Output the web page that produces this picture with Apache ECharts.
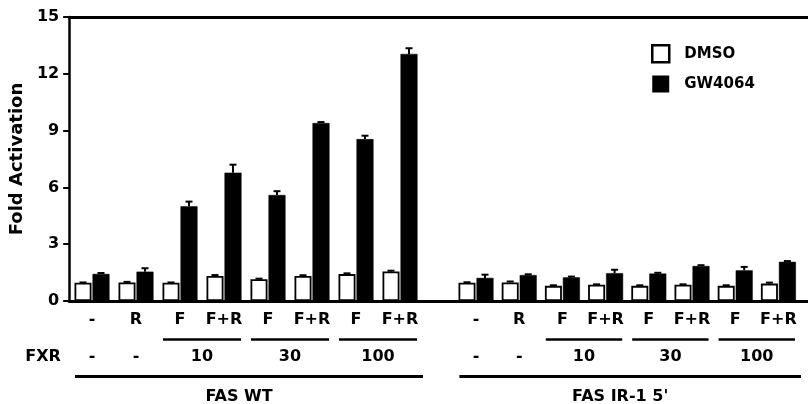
<!DOCTYPE html>
<html>
<head>
<meta charset="utf-8">
<script src="https://cdn.jsdelivr.net/npm/echarts@6/dist/echarts.min.js"></script>
<style>html,body{margin:0;padding:0;background:#fff}#c{width:808px;height:404px}</style>
</head>
<body>
<div id="c"></div>
<script>
// ---- data ----
const treatLabels = ['-', 'R', 'F', 'F+R', 'F', 'F+R', 'F', 'F+R'];
const fxrDoses = ['-', '-', '10', '30', '100'];
const fxrSpans = [[0, 0], [1, 1], [2, 3], [4, 5], [6, 7]];
const constructNames = ['FAS WT', "FAS IR-1 5'"];
const seriesNames = ['DMSO', 'GW4064'];
const yTicks = [0, 3, 6, 9, 12, 15];

const wtDmso = [0.96, 0.98, 0.96, 1.32, 1.15, 1.32, 1.42, 1.56];
const wtDmsoErr = [0.02, 0.03, 0.02, 0.05, 0.03, 0.04, 0.04, 0.04];
const wtGw = [1.43, 1.55, 5.0, 6.78, 5.6, 9.4, 8.55, 13.05];
const wtGwErr = [0.05, 0.18, 0.25, 0.42, 0.2, 0.05, 0.18, 0.3];

const irDmso = [0.97, 0.98, 0.8, 0.86, 0.8, 0.86, 0.8, 0.92];
const irDmsoErr = [0.02, 0.05, 0.03, 0.02, 0.03, 0.02, 0.03, 0.05];
const irGw = [1.22, 1.37, 1.25, 1.47, 1.45, 1.85, 1.62, 2.07];
const irGwErr = [0.17, 0.04, 0.04, 0.18, 0.04, 0.04, 0.18, 0.04];

// ---- styles ----
const FONT = 'DejaVu Sans';
const BAR_W = 17;
const BAR_GAP = 1;
const AX = '#000';

const chart = echarts.init(document.getElementById('c'), null, {renderer: 'canvas'});

function errSeries(name, vals, errs, side, xi, yi) {
  return {
    type: 'custom', name: name + ' err', xAxisIndex: xi, yAxisIndex: yi, z: 5,
    silent: true,
    data: vals.map((v, i) => [i, v, errs[i]]),
    renderItem: function (params, api) {
      const i = api.value(0), v = api.value(1), e = api.value(2);
      const p1 = api.coord([i, v]);
      const p2 = api.coord([i, v + e]);
      const x = p1[0] + side * (BAR_W + BAR_GAP) / 2;
      return {
        type: 'group',
        children: [
          {type: 'line', shape: {x1: x, y1: p1[1], x2: x, y2: p2[1]}, style: {stroke: '#000', lineWidth: 2}},
          {type: 'line', shape: {x1: x - 3.5, y1: p2[1], x2: x + 3.5, y2: p2[1]}, style: {stroke: '#000', lineWidth: 2}}
        ]
      };
    }
  };
}

function barSeries(name, vals, xi, yi, white) {
  return {
    type: 'bar', name: name, xAxisIndex: xi, yAxisIndex: yi,
    data: vals, barWidth: BAR_W, barGap: (BAR_GAP / BAR_W * 100).toFixed(1) + '%',
    itemStyle: white ? {color: '#fff', borderColor: '#000', borderWidth: 1.8}
                     : {color: '#000', borderColor: '#000', borderWidth: 0.5},
    emphasis: {disabled: true}, animation: false
  };
}

function row2Formatter(v) {
  for (let k = 0; k < fxrSpans.length; k++) {
    const m = (fxrSpans[k][0] + fxrSpans[k][1]) / 2;
    if (Math.abs(m - v) < 1e-6) return fxrDoses[k];
  }
  return '';
}

const catAxis = (gi) => ({
  type: 'category', gridIndex: gi, data: treatLabels,
  axisLine: {show: false}, axisTick: {show: false},
  axisLabel: {color: '#000', fontFamily: FONT, fontWeight: 'bold', fontSize: 16, margin: 11, interval: 0}
});
const row2Axis = (gi) => ({
  type: 'value', gridIndex: gi, min: -0.5, max: 7.5, interval: 0.5, position: 'bottom',
  axisLine: {show: false}, axisTick: {show: false}, splitLine: {show: false},
  axisLabel: {color: '#000', fontFamily: FONT, fontWeight: 'bold', fontSize: 16, margin: 48,
    formatter: row2Formatter, showMinLabel: true, showMaxLabel: true}
});
const hiddenY = (gi) => ({type: 'value', gridIndex: gi, min: 0, max: 15, interval: 3, show: false});

const option = {
  animation: false,
  textStyle: {fontFamily: FONT},
  grid: [
    {left: 63, right: 0, top: 17, bottom: 103},
    {left: 70, width: 352, top: 17, bottom: 103},
    {left: 454.4, width: 345.6, top: 17, bottom: 103}
  ],
  legend: {
    data: [
      {name: 'DMSO', itemStyle: {color: '#fff', borderColor: '#000', borderWidth: 2.5}},
      {name: 'GW4064', itemStyle: {color: '#000', borderColor: '#000', borderWidth: 0}}
    ],
    orient: 'vertical', left: 651, top: 44, padding: 0, icon: 'rect',
    itemWidth: 17, itemHeight: 17, itemGap: 12, selectedMode: false,
    textStyle: {color: '#000', fontFamily: FONT, fontWeight: 'bold', fontSize: 15, padding: [0, 0, 0, 10]}
  },
  xAxis: [
    {type: 'value', gridIndex: 0, min: 0, max: 1, position: 'bottom',
     axisLine: {show: true, lineStyle: {color: AX, width: 3}}, axisTick: {show: false},
     axisLabel: {show: false}, splitLine: {show: false}},
    {type: 'value', gridIndex: 0, min: 0, max: 1, position: 'top',
     axisLine: {show: true, lineStyle: {color: AX, width: 3}}, axisTick: {show: false},
     axisLabel: {show: false}, splitLine: {show: false}},
    catAxis(1), row2Axis(1), catAxis(2), row2Axis(2)
  ],
  yAxis: [
    {type: 'value', gridIndex: 0, min: yTicks[0], max: yTicks[yTicks.length - 1], interval: 3,
     name: 'Fold Activation', nameLocation: 'middle', nameGap: 40,
     nameTextStyle: {color: '#000', fontFamily: FONT, fontWeight: 'bold', fontSize: 18},
     axisLine: {show: true, lineStyle: {color: AX, width: 2.5}},
     axisTick: {show: true, inside: false, length: 6, lineStyle: {color: AX, width: 2}},
     axisLabel: {color: '#000', fontFamily: FONT, fontWeight: 'bold', fontSize: 16, margin: 10},
     splitLine: {show: false}},
    hiddenY(1), hiddenY(2)
  ],
  series: [
    barSeries(seriesNames[0], wtDmso, 2, 1, true),
    barSeries(seriesNames[1], wtGw, 2, 1, false),
    barSeries(seriesNames[0], irDmso, 4, 2, true),
    barSeries(seriesNames[1], irGw, 4, 2, false),
    errSeries('wtD', wtDmso, wtDmsoErr, -1, 2, 1),
    errSeries('wtG', wtGw, wtGwErr, 1, 2, 1),
    errSeries('irD', irDmso, irDmsoErr, -1, 4, 2),
    errSeries('irG', irGw, irGwErr, 1, 4, 2)
  ]
};
chart.setOption(option);

// ---- bracket lines and group labels, positioned via the axes ----
function decorations() {
  const els = [];
  const base = chart.convertToPixel({yAxisIndex: 1}, 0);
  [[2, constructNames[0]], [4, constructNames[1]]].forEach(([xi, label]) => {
    const c0 = chart.convertToPixel({xAxisIndex: xi}, 0);
    const c1 = chart.convertToPixel({xAxisIndex: xi}, 1);
    const band = c1 - c0;
    fxrSpans.forEach((s) => {
      if (s[1] > s[0]) {
        const a = chart.convertToPixel({xAxisIndex: xi}, s[0]) - band / 2 + 5;
        const b = chart.convertToPixel({xAxisIndex: xi}, s[1]) + band / 2 - 5;
        els.push({type: 'line', shape: {x1: a, y1: base + 38.5, x2: b, y2: base + 38.5},
          style: {stroke: '#000', lineWidth: 2.5}});
      }
    });
    const a = chart.convertToPixel({xAxisIndex: xi}, 0) - band / 2 + 5;
    const b = chart.convertToPixel({xAxisIndex: xi}, treatLabels.length - 1) + band / 2 + 1;
    els.push({type: 'line', shape: {x1: a, y1: base + 75.5, x2: b, y2: base + 75.5},
      style: {stroke: '#000', lineWidth: 3}});
    els.push({type: 'text', x: (a + b) / 2 - 10, y: base + 96,
      style: {text: label, font: 'bold 16px "DejaVu Sans"', fill: '#000', align: 'center', verticalAlign: 'middle',
        textAlign: 'center', textVerticalAlign: 'middle'}});
  });
  els.push({type: 'text', x: 43, y: base + 56,
    style: {text: 'FXR', font: 'bold 16px "DejaVu Sans"', fill: '#000', align: 'center', verticalAlign: 'middle',
      textAlign: 'center', textVerticalAlign: 'middle'}});
  chart.setOption({graphic: {elements: els}});
}
decorations();
</script>
</body>
</html>
